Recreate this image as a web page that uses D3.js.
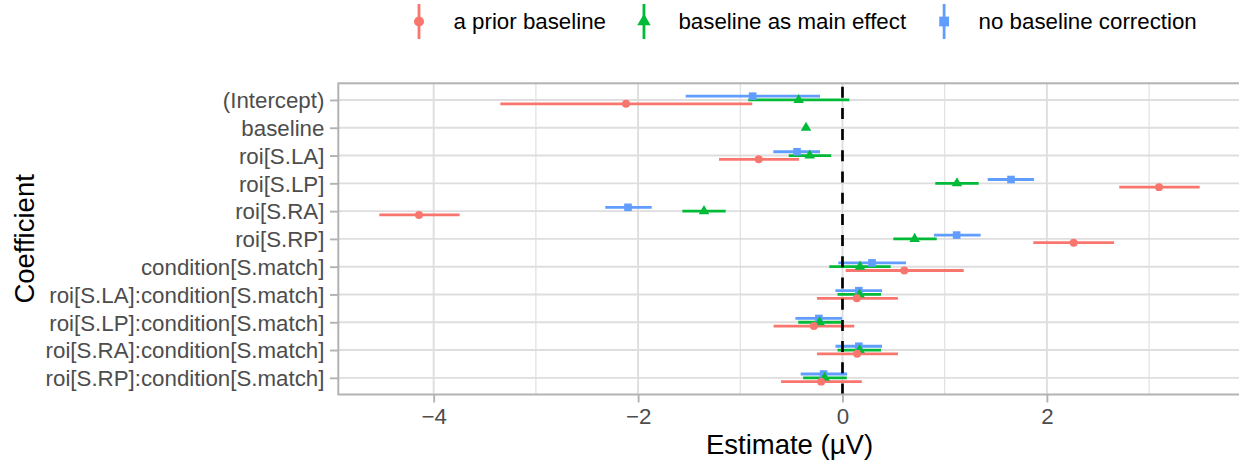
<!DOCTYPE html>
<html>
<head>
<meta charset="utf-8">
<script src="https://cdn.jsdelivr.net/npm/d3@7"></script>
<style>
  html, body { margin: 0; padding: 0; background: #ffffff; }
  svg { display: block; font-family: "Liberation Sans", Arial, Helvetica, sans-serif; }
</style>
</head>
<body>
<svg id="chart" width="1239" height="465"></svg>
<script>
// ---------------- data ----------------
const categories = [
  "(Intercept)", "baseline", "roi[S.LA]", "roi[S.LP]", "roi[S.RA]", "roi[S.RP]",
  "condition[S.match]", "roi[S.LA]:condition[S.match]", "roi[S.LP]:condition[S.match]",
  "roi[S.RA]:condition[S.match]", "roi[S.RP]:condition[S.match]"
];
const seriesNames = ["a prior baseline", "baseline as main effect", "no baseline correction"];

const priorEst = [-2.118, null, -0.820, 3.097, -4.144, 2.262, 0.605, 0.140, -0.280, 0.143, -0.209];
const priorLo  = [-3.348, null, -1.208, 2.708, -4.532, 1.867, 0.031, -0.249, -0.674, -0.249, -0.601];
const priorHi  = [-0.883, null, -0.425, 3.495, -3.746, 2.657, 1.186, 0.542, 0.115, 0.542, 0.189];

const mainEst = [-0.429, -0.357, -0.321, 1.120, -1.355, 0.706, 0.171, 0.167, -0.224, 0.167, -0.175];
const mainLo  = [-0.922, -0.380, -0.526, 0.908, -1.567, 0.497, -0.129, -0.049, -0.433, -0.049, -0.385];
const mainHi  = [0.067, -0.335, -0.110, 1.333, -1.143, 0.922, 0.472, 0.377, -0.007, 0.377, 0.042];

const noneEst = [-0.879, null, -0.445, 1.649, -2.099, 1.117, 0.289, 0.160, -0.231, 0.160, -0.185];
const noneLo  = [-1.534, null, -0.677, 1.421, -2.321, 0.895, -0.041, -0.069, -0.461, -0.069, -0.409];
const noneHi  = [-0.220, null, -0.220, 1.874, -1.867, 1.352, 0.621, 0.387, -0.004, 0.387, 0.045];

const xTicks = [-4, -2, 0, 2];
const xMinorTicks = [-5, -3, -1, 1, 3];

// ---------------- build ----------------
const colors = ["#F8766D", "#00BA38", "#619CFF"];
const shapes = [d3.symbolCircle, d3.symbolTriangle, d3.symbolSquare];
const plotSizes = [50, 48, 58];
const legendSizes = [80, 78, 95];
const dodge = [1, 0, -1]; // red below, blue above

const seriesData = [
  [priorEst, priorLo, priorHi],
  [mainEst, mainLo, mainHi],
  [noneEst, noneLo, noneHi]
];
const rows = [];
seriesData.forEach((s, si) => {
  categories.forEach((c, ci) => {
    if (s[0][ci] !== null) rows.push({ s: si, cat: c, est: s[0][ci], lo: s[1][ci], hi: s[2][ci] });
  });
});
const perCat = d3.rollup(rows, v => v.length, d => d.cat);

const panel = { left: 338.3, right: 1240.7, top: 83.3, bottom: 394.5 };

const allVals = rows.flatMap(r => [r.lo, r.hi]);
const dMin = d3.min(allVals), dMax = d3.max(allVals);
const pad = (dMax - dMin) * 0.05;
const x = d3.scaleLinear().domain([dMin - pad, dMax + pad]).range([panel.left, panel.right]);
const y = d3.scalePoint().domain(categories).range([panel.top, panel.bottom]).padding(0.6);
const step = y.step();
const dodgeStep = step * 0.137;
const yPos = r => y(r.cat) + (perCat.get(r.cat) > 1 ? dodge[r.s] * dodgeStep : 0);

const svg = d3.select("#chart");
svg.append("rect").attr("width", 1239).attr("height", 465).attr("fill", "#fff");

// gridlines
const grid = svg.append("g");
grid.selectAll(".minor").data(xMinorTicks.filter(v => x(v) > panel.left && x(v) < panel.right))
  .join("line")
  .attr("x1", d => x(d)).attr("x2", d => x(d))
  .attr("y1", panel.top).attr("y2", panel.bottom)
  .attr("stroke", "#DEDEDE").attr("stroke-width", 1.1);
grid.selectAll(".majx").data(xTicks)
  .join("line")
  .attr("x1", d => x(d)).attr("x2", d => x(d))
  .attr("y1", panel.top).attr("y2", panel.bottom)
  .attr("stroke", "#DEDEDE").attr("stroke-width", 1.9);
grid.selectAll(".majy").data(categories)
  .join("line")
  .attr("x1", panel.left).attr("x2", panel.right)
  .attr("y1", d => y(d)).attr("y2", d => y(d))
  .attr("stroke", "#DEDEDE").attr("stroke-width", 1.9);

// marks: lines then points, drawn blue, green, red
const order = [2, 1, 0];
const marks = svg.append("g");
order.forEach(si => {
  marks.selectAll(null).data(rows.filter(r => r.s === si))
    .join("line")
    .attr("x1", d => x(d.lo)).attr("x2", d => x(d.hi))
    .attr("y1", d => yPos(d)).attr("y2", d => yPos(d))
    .attr("stroke", colors[si]).attr("stroke-width", 2.8);
});
order.forEach(si => {
  marks.selectAll(null).data(rows.filter(r => r.s === si))
    .join("path")
    .attr("d", d3.symbol().type(shapes[si]).size(plotSizes[si]))
    .attr("transform", d => `translate(${x(d.est)},${yPos(d)})`)
    .attr("fill", colors[si]);
});

// zero reference line
svg.append("line")
  .attr("x1", x(0)).attr("x2", x(0))
  .attr("y1", panel.bottom).attr("y2", panel.top)
  .attr("stroke", "#000").attr("stroke-width", 2.7)
  .attr("stroke-dasharray", "11,10.2");

// panel border
svg.append("rect")
  .attr("x", panel.left).attr("y", panel.top)
  .attr("width", panel.right - panel.left).attr("height", panel.bottom - panel.top)
  .attr("fill", "none").attr("stroke", "#B3B3B3").attr("stroke-width", 2);

// axes
const xAxis = d3.axisBottom(x).tickValues(xTicks).tickSize(8).tickPadding(6)
  .tickFormat(d => d < 0 ? "\u2212" + Math.abs(d) : String(d));
const gx = svg.append("g").attr("transform", `translate(0,${panel.bottom})`).call(xAxis);
gx.select(".domain").remove();
gx.selectAll(".tick line").attr("stroke", "#B3B3B3").attr("stroke-width", 1.9);
gx.selectAll(".tick text").attr("fill", "#4D4D4D").attr("font-size", 22.3)
  .attr("font-family", "Liberation Sans, Arial, sans-serif").attr("dy", "0.71em").attr("y", 13.5);

const yAxis = d3.axisLeft(y).tickSize(8.3).tickPadding(5.6);
const gy = svg.append("g").attr("transform", `translate(${panel.left},0)`).call(yAxis);
gy.select(".domain").remove();
gy.selectAll(".tick line").attr("stroke", "#B3B3B3").attr("stroke-width", 1.9);
gy.selectAll(".tick text").attr("fill", "#4D4D4D").attr("font-size", 22.3)
  .attr("font-family", "Liberation Sans, Arial, sans-serif").attr("dy", "0.35em");

// axis titles
svg.append("text")
  .attr("x", (panel.left + panel.right) / 2).attr("y", 454)
  .attr("text-anchor", "middle").attr("font-size", 27.5).attr("fill", "#000")
  .text("Estimate (\u00B5V)");
svg.append("text")
  .attr("transform", `translate(33.5,${(panel.top + panel.bottom) / 2}) rotate(-90)`)
  .attr("text-anchor", "middle").attr("font-size", 27.5).attr("fill", "#000")
  .text("Coefficient");

// legend
const legend = svg.append("g");
let kx = 419;
const ky = 21.5;
seriesNames.forEach((name, si) => {
  const g = legend.append("g");
  g.append("line").attr("x1", kx).attr("x2", kx).attr("y1", ky - 17.5).attr("y2", ky + 17.5)
    .attr("stroke", colors[si]).attr("stroke-width", 2.8);
  g.append("path").attr("d", d3.symbol().type(shapes[si]).size(legendSizes[si]))
    .attr("transform", `translate(${kx},${ky})`).attr("fill", colors[si]);
  const t = g.append("text").attr("x", kx + 34.5).attr("y", ky + 7.2)
    .attr("font-size", 22.3).attr("fill", "#000").text(name);
  const w = t.node().getComputedTextLength();
  kx = kx + 34.5 + w + 38;
});
</script>
</body>
</html>
